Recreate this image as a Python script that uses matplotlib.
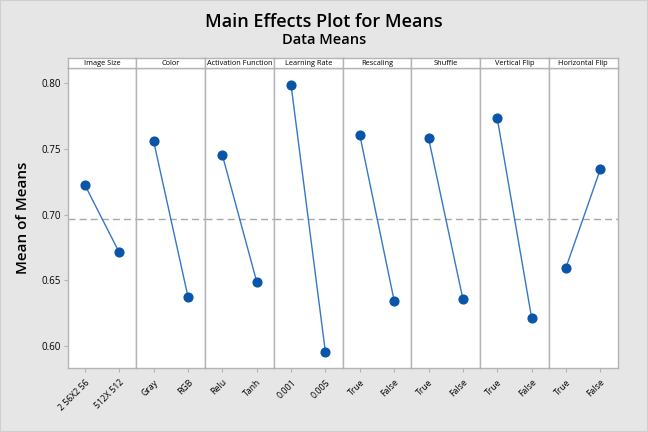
import matplotlib
matplotlib.use("Agg")
import matplotlib.pyplot as plt
from matplotlib.patches import Rectangle

plt.rcParams['font.family'] = ['Open Sans', 'DejaVu Sans']

factors = ['Image Size', 'Color', 'Activation Function', 'Learning Rate',
           'Rescaling', 'Shuffle', 'Vertical Flip', 'Horizontal Flip']
levels = [['2 56X2 56', '512X 512'], ['Gray', 'RGB'], ['Relu', 'Tanh'],
          ['0.001', '0.005'], ['True', 'False'], ['True', 'False'],
          ['True', 'False'], ['True', 'False']]
means = [[0.7226, 0.6712], [0.7560, 0.6376], [0.7454, 0.6490],
         [0.7987, 0.5953], [0.7607, 0.6346], [0.7584, 0.6359],
         [0.7734, 0.6216], [0.6597, 0.7345]]
grand_mean = 0.697

bg = '#e6e6e6'
line_col = '#3478c6'
dot_col = '#0a55a8'
grid_col = '#b4b4b4'

fig = plt.figure(figsize=(6.48, 4.32), dpi=100, facecolor=bg)
fig.patches.append(Rectangle((0, 0), 1, 1, transform=fig.transFigure,
                             fill=False, edgecolor='#cfcfcf', lw=1.5))

left, right = 67.7 / 648, 617.5 / 648
bottom, top = 1 - 368 / 432, 1 - 68 / 432
strip_h = 10 / 432
n = len(factors)
w = (right - left) / n

for i in range(n):
    ax = fig.add_axes([left + i * w, bottom, w, top - bottom])
    ax.set_facecolor('white')
    ax.plot([1, 2], means[i], color=line_col, lw=1.0, zorder=2)
    ax.plot([1, 2], means[i], 'o', color=dot_col, ms=6.3, zorder=3)
    ax.axhline(grand_mean, color='#a8a8a8', ls=(0, (5, 3)), lw=1.0, zorder=1)
    ax.set_xlim(0.5, 2.5)
    ax.set_ylim(0.5833, 0.8116)
    ax.set_xticks([1, 2])
    ax.set_xticklabels(levels[i], rotation=45, ha='right', rotation_mode='anchor',
                       fontsize=6.3)
    ax.tick_params(axis='x', length=3, color=grid_col, pad=4)
    for s in ax.spines.values():
        s.set_color(grid_col)
        s.set_linewidth(1.0)
    if i == 0:
        ax.set_yticks([0.60, 0.65, 0.70, 0.75, 0.80])
        ax.set_yticklabels(['0.60', '0.65', '0.70', '0.75', '0.80'], fontsize=7)
        ax.tick_params(axis='y', length=3, color=grid_col, pad=2)
        ax.set_ylabel('Mean of Means', fontsize=11, fontweight='semibold', labelpad=8)
    else:
        ax.set_yticks([])

    sx = fig.add_axes([left + i * w, top, w, strip_h])
    sx.set_facecolor('white')
    sx.set_xticks([])
    sx.set_yticks([])
    for s in sx.spines.values():
        s.set_color(grid_col)
        s.set_linewidth(1.0)
    sx.text(0.5, 0.45, factors[i], ha='center', va='center', fontsize=5.3,
            transform=sx.transAxes)

fig.text(0.5, 1 - 22 / 432, 'Main Effects Plot for Means', ha='center',
         va='center', fontsize=13, fontweight='semibold')
fig.text(0.5, 1 - 40 / 432, 'Data Means', ha='center', va='center', fontsize=10.5,
         fontweight='semibold')

fig.savefig('out.png', dpi=100, facecolor=bg)
